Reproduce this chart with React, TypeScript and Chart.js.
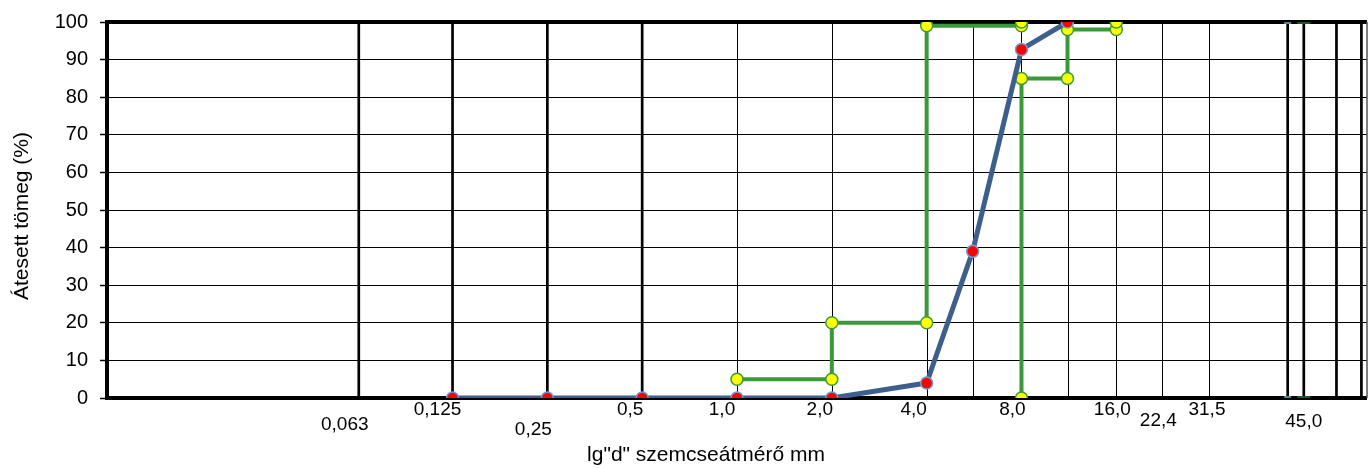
import React, { useEffect, useRef } from 'react';
import { Chart, registerables } from 'chart.js';

Chart.register(...registerables);

// ---------- data ----------
const passSizes = [0.125, 0.25, 0.5, 1, 2, 4, 5.6, 8, 11.2];
const passPercent = [0, 0, 0, 0, 0, 4, 39, 92.7, 100];

const limitASizes = [1, 2, 2, 4, 4, 8, 8];
const limitAPercent = [5, 5, 20, 20, 99, 99, 100];

const limitBSizes = [8, 8, 11.2, 11.2, 16, 16];
const limitBPercent = [0, 85, 85, 98, 98, 100];

const markASizes = [56, 56];
const markAPercent = [0, 100];
const markBSizes = [63, 63];
const markBPercent = [0, 100];

const thickGridSizes = [0.063, 0.125, 0.25, 0.5, 56, 63, 80, 96];
const thinGridSizes = [1, 2, 4, 5.6, 8, 11.2, 16, 22.4, 31.5];

const sieveLabelSizes = [0.063, 0.125, 0.25, 0.5, 1, 2, 4, 8, 16, 22.4, 31.5, 45];
const sieveLabelText = ['0,063', '0,125', '0,25', '0,5', '1,0', '2,0', '4,0', '8,0', '16,0', '22,4', '31,5', '45,0'];

const yTitle = 'Átesett tömeg (%)';
const xTitle = 'lg"d" szemcseátmérő mm';

// ---------- layout (px) ----------
const labelDx = [-14, -15, -14, -12, -15, -12, -13, -9, -4, -4, -2, 46];
const labelDy = [27, 12, 32, 12, 12, 12, 12, 12, 12, 23, 12, 24];
const FONT = "'Liberation Sans', Arial, sans-serif";
const AREA = { left: 107, right: 1367, top: 22, bottom: 398 };

const pts = (xs: number[], ys: number[]) => xs.map((x, i) => ({ x, y: ys[i] }));

const areaPlugin = {
  id: 'fixedArea',
  afterLayout(chart: any) {
    const a = chart.chartArea;
    a.left = AREA.left;
    a.right = AREA.right;
    a.top = AREA.top;
    a.bottom = AREA.bottom;
    a.width = AREA.right - AREA.left;
    a.height = AREA.bottom - AREA.top;
    const { x, y } = chart.scales;
    x.left = AREA.left;
    x.right = AREA.right;
    x.width = a.width;
    x.top = AREA.bottom;
    x.bottom = chart.height;
    y.top = AREA.top;
    y.bottom = AREA.bottom;
    y.height = a.height;
    y.left = 0;
    y.right = AREA.left;
    x.configure();
    y.configure();
  },
};

const sievePlugin = {
  id: 'sievePlugin',
  beforeDatasetsDraw(chart: any) {
    const { ctx, chartArea: a, scales } = chart;
    const x = scales.x;
    ctx.save();
    ctx.strokeStyle = '#000';
    const vline = (v: number, w: number) => {
      let px = x.getPixelForValue(v);
      if (w === 1) px = Math.round(px) + 0.5;
      ctx.lineWidth = w;
      ctx.beginPath();
      ctx.moveTo(px, a.top);
      ctx.lineTo(px, a.bottom);
      ctx.stroke();
    };
    thinGridSizes.forEach((v) => vline(v, 1));
    thickGridSizes.forEach((v) => vline(v, 2.7));
    // frame
    ctx.lineWidth = 4;
    ctx.beginPath();
    ctx.moveTo(a.left - 2, a.top);
    ctx.lineTo(a.right, a.top);
    ctx.moveTo(a.left - 2, a.bottom);
    ctx.lineTo(a.right, a.bottom);
    ctx.moveTo(a.left, a.top);
    ctx.lineTo(a.left, a.bottom);
    ctx.stroke();
    ctx.strokeStyle = '#555';
    ctx.lineWidth = 1.5;
    ctx.beginPath();
    ctx.moveTo(a.right, a.top);
    ctx.lineTo(a.right, a.bottom);
    ctx.stroke();
    ctx.restore();
  },
  afterDraw(chart: any) {
    const { ctx, chartArea: a, scales } = chart;
    const x = scales.x;
    ctx.save();
    ctx.fillStyle = '#000';
    ctx.textAlign = 'center';
    ctx.textBaseline = 'middle';
    ctx.font = `19px ${FONT}`;
    sieveLabelSizes.forEach((v, i) => {
      const px = x.getPixelForValue(v) + labelDx[i];
      ctx.fillText(sieveLabelText[i], px, a.bottom + labelDy[i]);
    });
    ctx.font = `21px ${FONT}`;
    ctx.fillText(xTitle, 706, 455);
    ctx.translate(22, 216);
    ctx.rotate(-Math.PI / 2);
    ctx.fillText(yTitle, 0, 0);
    ctx.restore();
  },
};

export default function App() {
  const ref = useRef<HTMLCanvasElement>(null);
  useEffect(() => {
    document.body.style.margin = '0';
    const blue = '#3C5F8D';
    const green = '#3A9A3A';
    const chart = new Chart(ref.current as HTMLCanvasElement, {
      type: 'scatter',
      data: {
        datasets: [
          {
            data: pts(passSizes, passPercent),
            showLine: true,
            borderColor: blue,
            borderWidth: 5,
            borderJoinStyle: 'round',
            borderCapStyle: 'round',
            pointRadius: 6,
            pointBorderWidth: 1.5,
            pointBackgroundColor: '#FF0000',
            pointBorderColor: '#6F9FDA',
          },
          {
            data: pts(limitASizes, limitAPercent),
            showLine: true,
            borderColor: green,
            borderWidth: 4,
            borderJoinStyle: 'round',
            pointRadius: 6,
            pointBorderWidth: 1.5,
            pointBackgroundColor: '#FFFF00',
            pointBorderColor: green,
          },
          {
            data: pts(limitBSizes, limitBPercent),
            showLine: true,
            borderColor: green,
            borderWidth: 4,
            borderJoinStyle: 'round',
            pointRadius: 6,
            pointBorderWidth: 1.5,
            pointBackgroundColor: '#FFFF00',
            pointBorderColor: green,
          },
          {
            data: pts(markASizes, markAPercent),
            showLine: false,
            pointStyle: 'line',
            pointRadius: 3.5,
            pointBorderWidth: 4,
            pointBorderColor: '#4F8A94',
            pointBackgroundColor: '#4F8A94',
          },
          {
            data: pts(markBSizes, markBPercent),
            showLine: false,
            pointStyle: 'line',
            pointRadius: 6.5,
            pointBorderWidth: 4,
            pointBorderColor: '#1D5A1D',
            pointBackgroundColor: '#1D5A1D',
          },
        ] as any,
      },
      options: {
        animation: false,
        responsive: false,
        devicePixelRatio: 1,
        layout: { autoPadding: false, padding: { top: 22, right: 1, left: 0, bottom: 0 } },
        plugins: { legend: { display: false }, tooltip: { enabled: false } },
        scales: {
          x: {
            type: 'logarithmic',
            min: 0.01,
            max: 100,
            ticks: { display: false },
            grid: { display: false },
            border: { display: false },
            afterFit: (s: any) => {
              s.height = 70;
              s.paddingLeft = 0;
              s.paddingRight = 0;
            },
          },
          y: {
            min: 0,
            max: 100,
            ticks: { stepSize: 10, color: '#000', font: { family: FONT, size: 20 }, padding: 12 },
            grid: { color: '#000', lineWidth: 1, tickLength: 7, tickWidth: 1.5, tickColor: '#000' },
            border: { display: false },
            afterFit: (s: any) => {
              s.width = 107;
              s.paddingTop = 0;
              s.paddingBottom = 0;
            },
          },
        },
      } as any,
      plugins: [areaPlugin, sievePlugin],
    });
    return () => chart.destroy();
  }, []);
  return (
    <div style={{ position: 'fixed', left: 0, top: 0, width: 1368, height: 468, background: '#fff' }}>
      <canvas ref={ref} width={1368} height={468} style={{ display: 'block', width: 1368, height: 468 }} />
    </div>
  );
}
